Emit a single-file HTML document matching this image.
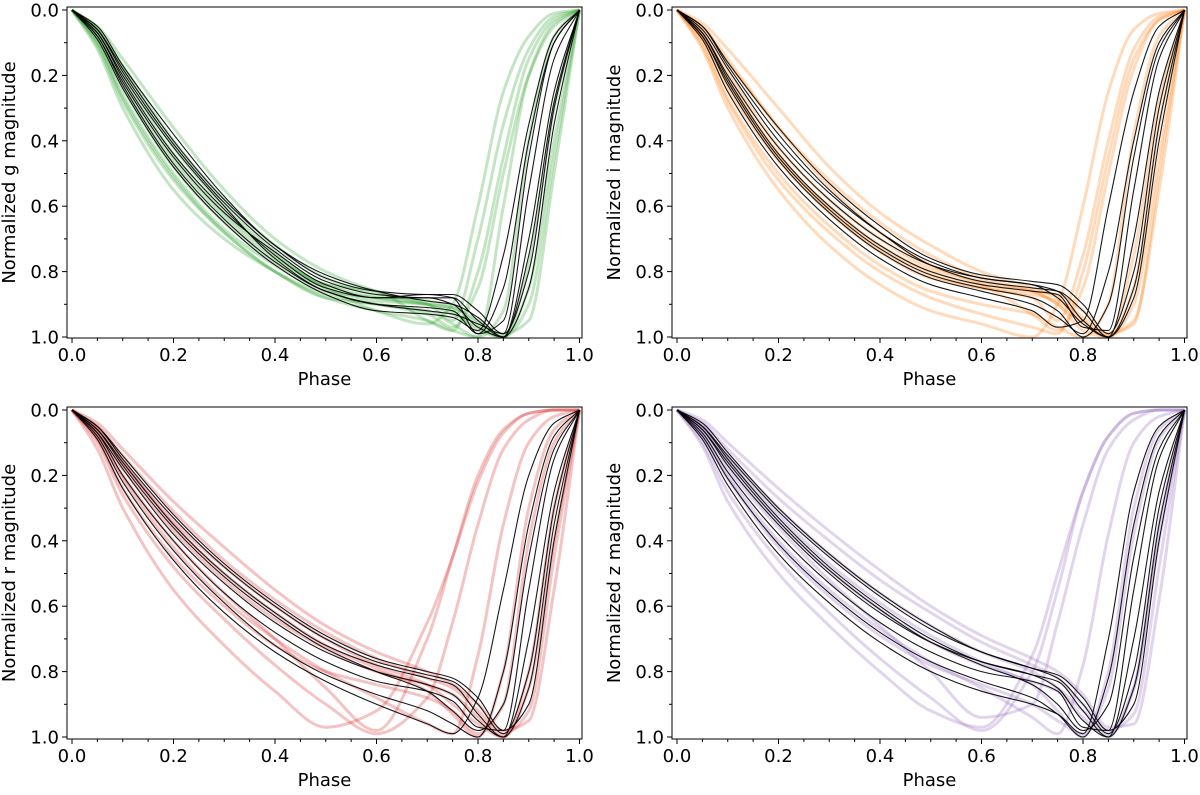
<!DOCTYPE html>
<html><head><meta charset="utf-8"><style>
body{margin:0;background:#fff}
svg text{font-family:"DejaVu Sans","Liberation Sans",sans-serif;fill:#000}
</style></head><body>
<svg id="fig" width="1200" height="790" xmlns="http://www.w3.org/2000/svg"></svg>
<script>
const phaseGrid=[0,0.05,0.1,0.2,0.3,0.4,0.5,0.6,0.7,0.75,0.8,0.85,0.9,0.95,1];
const yTicks=[0,0.2,0.4,0.6,0.8,1.0];
const xTicks=[0,0.2,0.4,0.6,0.8,1.0];
const gColor=[
[0,0.10,0.26,0.50,0.67,0.78,0.86,0.88,0.90,0.95,0.70,0.35,0.12,0.02,0],
[0,0.06,0.18,0.42,0.60,0.74,0.84,0.86,0.95,0.98,0.80,0.45,0.15,0.03,0],
[0,0.12,0.30,0.55,0.70,0.80,0.87,0.90,0.92,0.96,1.0,0.60,0.20,0.04,0],
[0,0.05,0.15,0.36,0.55,0.70,0.80,0.86,0.90,0.93,0.97,1.0,0.85,0.40,0],
[0,0.08,0.22,0.46,0.63,0.76,0.84,0.88,0.90,0.91,0.96,1.0,0.90,0.45,0],
[0,0.11,0.28,0.52,0.68,0.80,0.88,0.92,0.95,0.98,1.0,0.92,0.40,0.08,0],
[0,0.07,0.20,0.44,0.62,0.75,0.85,0.92,0.96,0.90,0.60,0.25,0.08,0.01,0],
[0,0.09,0.24,0.48,0.65,0.77,0.85,0.89,0.90,0.92,0.98,1.0,0.78,0.30,0],
[0,0.06,0.17,0.40,0.58,0.72,0.82,0.87,0.89,0.91,0.95,0.99,0.95,0.50,0],
[0,0.10,0.27,0.51,0.68,0.80,0.88,0.90,0.93,0.97,0.85,0.50,0.20,0.05,0]];
const gBlack=[
[0,0.08,0.22,0.45,0.62,0.74,0.84,0.88,0.88,0.90,0.97,1.0,0.70,0.25,0],
[0,0.06,0.18,0.40,0.58,0.72,0.82,0.86,0.87,0.87,0.92,0.99,0.80,0.30,0],
[0,0.07,0.20,0.42,0.60,0.76,0.86,0.90,0.92,0.93,0.96,0.99,0.55,0.15,0],
[0,0.09,0.24,0.48,0.65,0.78,0.87,0.92,0.93,0.94,0.98,0.75,0.35,0.08,0],
[0,0.07,0.21,0.44,0.61,0.75,0.85,0.88,0.87,0.88,0.99,0.95,0.45,0.10,0],
[0,0.05,0.17,0.38,0.57,0.72,0.81,0.86,0.89,0.90,0.94,1.0,0.85,0.35,0],
[0,0.08,0.23,0.47,0.64,0.77,0.86,0.90,0.91,0.92,0.99,0.85,0.40,0.10,0],
[0,0.06,0.19,0.41,0.59,0.73,0.83,0.87,0.88,0.88,0.95,1.0,0.75,0.28,0]];
const iColor=[
[0,0.09,0.24,0.46,0.62,0.74,0.82,0.85,0.88,0.95,0.75,0.40,0.12,0.02,0],
[0,0.05,0.15,0.36,0.54,0.68,0.78,0.84,0.93,0.98,0.85,0.50,0.18,0.03,0],
[0,0.12,0.30,0.55,0.72,0.84,0.92,0.96,1.0,0.90,0.60,0.25,0.06,0.01,0],
[0,0.06,0.16,0.36,0.52,0.65,0.75,0.82,0.86,0.90,0.96,1.0,0.85,0.35,0],
[0,0.08,0.21,0.44,0.61,0.73,0.81,0.85,0.87,0.89,0.95,1.0,0.90,0.45,0],
[0,0.10,0.27,0.50,0.66,0.78,0.86,0.90,0.93,0.97,1.0,0.90,0.38,0.08,0],
[0,0.04,0.12,0.30,0.48,0.62,0.72,0.80,0.85,0.88,0.94,0.99,0.96,0.50,0],
[0,0.07,0.19,0.42,0.58,0.70,0.79,0.83,0.86,0.90,0.98,1.0,0.75,0.28,0],
[0,0.11,0.28,0.52,0.68,0.80,0.88,0.93,0.97,0.99,0.80,0.45,0.15,0.03,0],
[0,0.08,0.22,0.45,0.60,0.72,0.80,0.84,0.86,0.87,0.92,0.99,0.95,0.55,0]];
const iBlack=[
[0,0.07,0.20,0.42,0.58,0.70,0.78,0.82,0.84,0.88,0.96,1.0,0.70,0.25,0],
[0,0.05,0.16,0.36,0.53,0.66,0.76,0.81,0.83,0.84,0.90,0.99,0.80,0.30,0],
[0,0.08,0.23,0.46,0.62,0.74,0.82,0.86,0.90,0.94,0.99,0.80,0.40,0.10,0],
[0,0.09,0.25,0.48,0.64,0.76,0.84,0.88,0.92,0.97,0.95,0.60,0.25,0.05,0],
[0,0.06,0.18,0.40,0.56,0.68,0.77,0.82,0.84,0.86,0.95,1.0,0.85,0.35,0],
[0,0.07,0.21,0.44,0.60,0.72,0.80,0.84,0.86,0.87,0.97,0.98,0.55,0.15,0],
[0,0.05,0.17,0.38,0.55,0.68,0.78,0.83,0.85,0.86,0.92,1.0,0.88,0.40,0],
[0,0.08,0.22,0.45,0.61,0.73,0.81,0.85,0.88,0.92,1.0,0.90,0.45,0.12,0]];
const rColor=[
[0,0.08,0.20,0.40,0.56,0.70,0.85,0.98,0.70,0.45,0.20,0.06,0.01,0,0],
[0,0.06,0.16,0.34,0.48,0.60,0.70,0.78,0.84,0.90,0.96,1.0,0.80,0.30,0],
[0,0.10,0.26,0.48,0.64,0.78,0.90,0.99,0.88,0.65,0.35,0.12,0.03,0,0],
[0,0.05,0.14,0.31,0.46,0.58,0.68,0.76,0.82,0.85,0.92,0.99,0.92,0.45,0],
[0,0.09,0.24,0.45,0.60,0.72,0.80,0.84,0.88,0.92,0.99,0.90,0.40,0.10,0],
[0,0.07,0.18,0.37,0.52,0.64,0.73,0.80,0.84,0.87,0.94,1.0,0.85,0.40,0],
[0,0.12,0.30,0.55,0.72,0.86,0.97,0.92,0.65,0.45,0.22,0.07,0.01,0,0],
[0,0.06,0.16,0.35,0.50,0.62,0.72,0.79,0.86,0.93,1.0,0.80,0.30,0.06,0],
[0,0.04,0.12,0.28,0.42,0.55,0.66,0.74,0.80,0.84,0.90,0.98,0.95,0.55,0],
[0,0.08,0.21,0.42,0.58,0.70,0.80,0.88,0.96,0.99,0.75,0.35,0.10,0.02,0]];
const rBlack=[
[0,0.07,0.18,0.38,0.53,0.65,0.74,0.80,0.84,0.87,0.95,1.0,0.70,0.25,0],
[0,0.05,0.15,0.33,0.48,0.60,0.70,0.77,0.81,0.83,0.90,0.99,0.80,0.30,0],
[0,0.08,0.22,0.43,0.59,0.72,0.81,0.87,0.92,0.96,1.0,0.80,0.35,0.08,0],
[0,0.06,0.17,0.36,0.51,0.63,0.73,0.80,0.86,0.92,0.98,0.90,0.45,0.12,0],
[0,0.09,0.24,0.46,0.62,0.74,0.83,0.90,0.96,0.99,0.88,0.55,0.20,0.04,0],
[0,0.06,0.16,0.35,0.50,0.62,0.72,0.78,0.82,0.84,0.93,1.0,0.85,0.35,0],
[0,0.07,0.20,0.40,0.56,0.68,0.77,0.83,0.86,0.89,0.97,0.98,0.55,0.15,0],
[0,0.05,0.14,0.32,0.47,0.59,0.69,0.76,0.80,0.82,0.88,0.98,0.90,0.40,0]];
const zColor=[
[0,0.07,0.18,0.36,0.52,0.66,0.80,0.94,0.90,0.65,0.35,0.12,0.03,0,0],
[0,0.05,0.14,0.30,0.44,0.56,0.66,0.74,0.80,0.85,0.92,0.99,0.85,0.35,0],
[0,0.10,0.25,0.46,0.62,0.76,0.88,0.98,0.80,0.55,0.25,0.08,0.01,0,0],
[0,0.04,0.12,0.27,0.40,0.52,0.62,0.71,0.78,0.82,0.90,0.98,0.93,0.48,0],
[0,0.08,0.21,0.42,0.57,0.69,0.78,0.84,0.90,0.95,0.99,0.85,0.38,0.09,0],
[0,0.06,0.16,0.34,0.49,0.61,0.71,0.78,0.83,0.86,0.94,1.0,0.85,0.40,0],
[0,0.11,0.28,0.50,0.66,0.80,0.92,0.97,0.75,0.50,0.25,0.08,0.01,0,0],
[0,0.05,0.15,0.32,0.47,0.59,0.69,0.77,0.84,0.92,1.0,0.80,0.30,0.06,0],
[0,0.03,0.10,0.24,0.37,0.49,0.60,0.69,0.76,0.80,0.87,0.97,0.96,0.58,0],
[0,0.08,0.20,0.40,0.55,0.67,0.77,0.85,0.94,0.99,0.78,0.38,0.10,0.02,0]];
const zBlack=[
[0,0.06,0.17,0.35,0.50,0.62,0.71,0.77,0.81,0.85,0.95,1.0,0.70,0.25,0],
[0,0.05,0.14,0.31,0.45,0.57,0.67,0.74,0.79,0.82,0.90,0.99,0.80,0.30,0],
[0,0.08,0.21,0.41,0.56,0.68,0.77,0.83,0.88,0.93,1.0,0.82,0.35,0.08,0],
[0,0.06,0.16,0.34,0.49,0.61,0.71,0.78,0.84,0.90,0.98,0.90,0.45,0.12,0],
[0,0.09,0.23,0.44,0.59,0.71,0.80,0.86,0.90,0.93,0.99,0.70,0.25,0.05,0],
[0,0.05,0.15,0.33,0.48,0.60,0.70,0.77,0.81,0.83,0.92,1.0,0.85,0.35,0],
[0,0.07,0.19,0.38,0.53,0.65,0.74,0.80,0.83,0.86,0.97,0.98,0.55,0.15,0],
[0,0.04,0.13,0.30,0.44,0.56,0.66,0.74,0.79,0.81,0.88,0.98,0.90,0.40,0]];

const NS='http://www.w3.org/2000/svg';
const svg=document.getElementById('fig');
function mk(tag,attrs,parent){const e=document.createElementNS(NS,tag);for(const k in attrs)e.setAttribute(k,attrs[k]);(parent||svg).appendChild(e);return e;}
function monoPath(xs,ys){
  const n=xs.length,d=[],m=[];
  for(let i=0;i<n-1;i++)d.push((ys[i+1]-ys[i])/(xs[i+1]-xs[i]));
  m[0]=d[0];m[n-1]=d[n-2];
  for(let i=1;i<n-1;i++){m[i]=(d[i-1]*d[i]<=0)?0:(2/(1/d[i-1]+1/d[i]));}
  let p='M'+xs[0].toFixed(1)+','+ys[0].toFixed(1);
  for(let i=0;i<n-1;i++){const h=xs[i+1]-xs[i];
    p+='C'+(xs[i]+h/3).toFixed(1)+','+(ys[i]+m[i]*h/3).toFixed(1)+' '+(xs[i+1]-h/3).toFixed(1)+','+(ys[i+1]-m[i+1]*h/3).toFixed(1)+' '+xs[i+1].toFixed(1)+','+ys[i+1].toFixed(1);}
  return p;}
const panels=[
 {band:'g',col:'#2ca02c',cs:gColor,bs:gBlack,x0:72,x1:579.5,y0:10,y1:337,L:67,R:582,T:7,B:338},
 {band:'i',col:'#ff7f0e',cs:iColor,bs:iBlack,x0:677,x1:1184.5,y0:10,y1:337,L:672,R:1187,T:7,B:338},
 {band:'r',col:'#d62728',cs:rColor,bs:rBlack,x0:72,x1:579.5,y0:410,y1:737,L:67,R:582,T:407,B:739},
 {band:'z',col:'#9467bd',cs:zColor,bs:zBlack,x0:677,x1:1184.5,y0:410,y1:737,L:672,R:1187,T:407,B:739}];
panels.forEach(P=>{
  const g=mk('g',{});
  
  
  const sx=v=>P.x0+(P.x1-P.x0)*v, sy=v=>P.y0+(P.y1-P.y0)*v;
  const xs=phaseGrid.map(sx);
  P.cs.forEach((c,k)=>{const e=mk('path',{d:monoPath(xs,c.map(sy)),fill:'none',stroke:P.col,'stroke-width':3,'stroke-opacity':0.28},g);
    
    });
  P.bs.forEach(c=>{const e=mk('path',{d:monoPath(xs,c.map(sy)),fill:'none',stroke:'#000','stroke-width':1.1,'stroke-opacity':0.9},g);
    
    });
  const fr=mk('rect',{x:P.L,y:P.T,width:P.R-P.L,height:P.B-P.T,fill:'none',stroke:'#000','stroke-width':1},g);
  
  
  for(let v=0;v<=1.0001;v+=0.05){const x=sx(v),maj=Math.abs(v*5-Math.round(v*5))<1e-6;
    mk('line',{x1:x,x2:x,y1:P.B,y2:P.B+(maj?5:3),stroke:'#000','stroke-width':1},g);}
  for(let v=0;v<=1.0001;v+=0.1){const y=sy(v),maj=Math.abs(v*5-Math.round(v*5))<1e-6;
    mk('line',{x1:P.L,x2:P.L-(maj?5:3),y1:y,y2:y,stroke:'#000','stroke-width':1},g);}
  xTicks.forEach(v=>{const t=mk('text',{x:sx(v),y:P.B+23,'font-size':18,'text-anchor':'middle'},g);t.textContent=v.toFixed(1);
    });
  yTicks.forEach(v=>{const t=mk('text',{x:P.L-8,y:sy(v)+6.5,'font-size':18,'text-anchor':'end'},g);t.textContent=v.toFixed(1);
    });
  const xt=mk('text',{x:(P.L+P.R)/2,y:P.B+47,'font-size':18,'text-anchor':'middle'},g);xt.textContent='Phase';
  
  const cy=(P.T+P.B)/2,cx=P.L-52;
  const yt=mk('text',{x:cx,y:cy,'font-size':18,'text-anchor':'middle',transform:'rotate(-90 '+cx+' '+cy+')'},g);
  yt.textContent='Normalized '+P.band+' magnitude';
  
});
</script>
</body></html>
